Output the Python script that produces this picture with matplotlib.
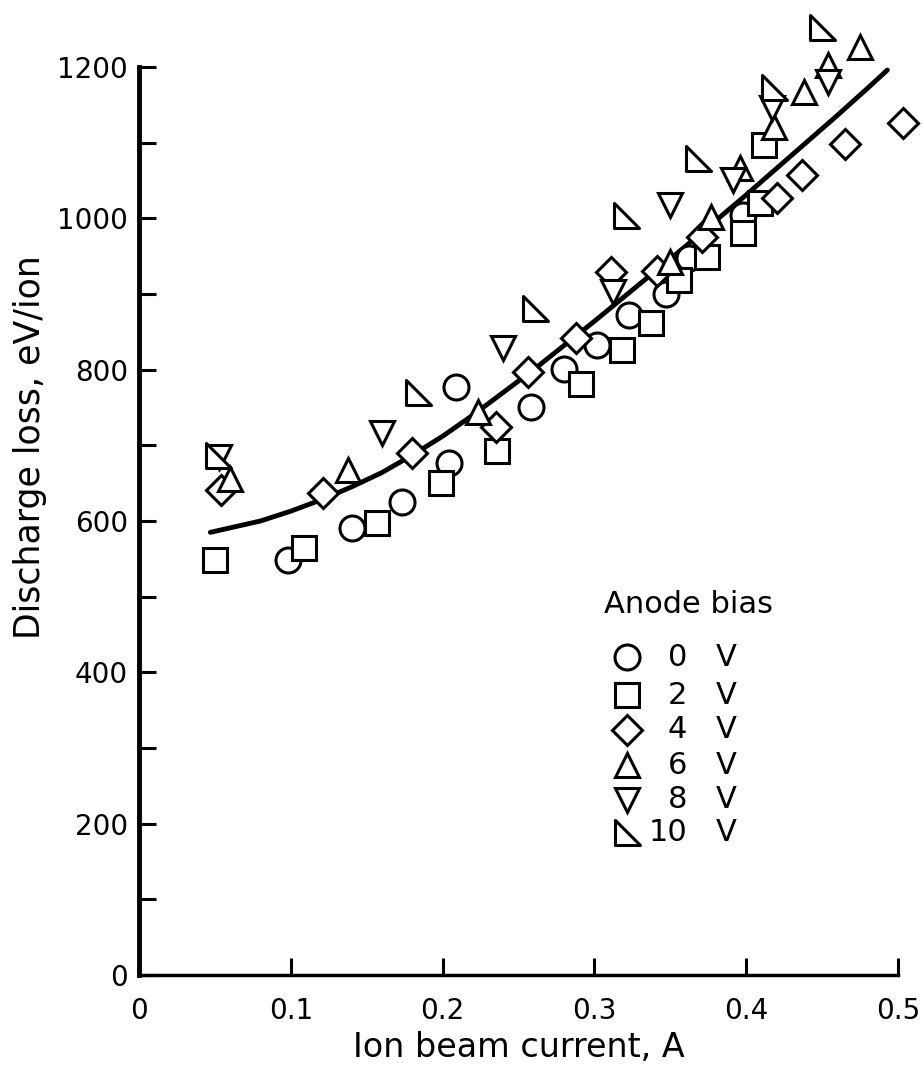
import numpy as np
import matplotlib
matplotlib.use("Agg")
import matplotlib.pyplot as plt
from matplotlib.path import Path

# anode bias series (x in A, y in eV/ion)
x_0v = [0.098, 0.140, 0.173, 0.204, 0.209, 0.258, 0.280, 0.302, 0.323, 0.347, 0.362, 0.398]
y_0v = [549, 591, 625, 677, 777, 751, 801, 833, 872, 900, 948, 1004]

x_2v = [0.050, 0.109, 0.157, 0.199, 0.236, 0.291, 0.318, 0.337, 0.356, 0.374, 0.398, 0.409, 0.412]
y_2v = [548, 564, 597, 650, 692, 781, 826, 862, 918, 949, 981, 1020, 1097]

x_4v = [0.054, 0.121, 0.180, 0.235, 0.256, 0.288, 0.311, 0.341, 0.371, 0.420, 0.437, 0.465, 0.503]
y_4v = [641, 637, 690, 724, 797, 842, 929, 931, 975, 1027, 1057, 1098, 1126]

x_6v = [0.060, 0.138, 0.223, 0.350, 0.377, 0.396, 0.418, 0.438, 0.454, 0.475]
y_6v = [656, 667, 744, 942, 1002, 1066, 1121, 1167, 1203, 1226]

x_8v = [0.053, 0.160, 0.240, 0.312, 0.350, 0.391, 0.417, 0.454]
y_8v = [685, 716, 829, 903, 1018, 1051, 1146, 1180]

x_10v = [0.052, 0.184, 0.261, 0.321, 0.368, 0.418, 0.450]
y_10v = [687, 770, 881, 1004, 1080, 1174, 1253]

# fitted curve, points
curve_x = [0.047, 0.08, 0.10, 0.12, 0.14, 0.16, 0.18, 0.20, 0.22, 0.24, 0.26,
           0.28, 0.30, 0.32, 0.34, 0.36, 0.38, 0.40, 0.42, 0.44, 0.46, 0.48, 0.493]
curve_y = [585, 600, 613, 628, 645, 664, 687, 712, 740, 770, 800,
           832, 864, 897, 930, 963, 997, 1031, 1066, 1101, 1136, 1172, 1196]

bias_labels = ["0", "2", "4", "6", "8", "10"]

# right-angle triangle marker for the 10 V series
rtri = Path([(-1, 1), (-1, -1), (1, -1), (-1, 1)],
            [Path.MOVETO, Path.LINETO, Path.LINETO, Path.CLOSEPOLY])

series = [
    (x_0v, y_0v, "o", 18),
    (x_2v, y_2v, "s", 17),
    (x_4v, y_4v, "D", 15),
    (x_6v, y_6v, "^", 17.5),
    (x_8v, y_8v, "v", 17.5),
    (x_10v, y_10v, rtri, 18),
]

fig = plt.figure(figsize=(9.23, 10.65), dpi=100)
ax = fig.add_axes([139 / 923, 90 / 1065, 759 / 923, 908 / 1065])

ax.plot(curve_x, curve_y, color="black", lw=3.5, solid_capstyle="round", zorder=2)

for xs, ys, m, ms in series:
    ax.plot(xs, ys, linestyle="none", marker=m, ms=ms, mfc="white",
            mec="black", mew=2.2, clip_on=False, zorder=3)

ax.set_xlim(0, 0.5)
ax.set_ylim(0, 1200)
ax.set_xticks(np.arange(0, 0.51, 0.1))
ax.set_xticklabels(["0", "0.1", "0.2", "0.3", "0.4", "0.5"])
ax.set_yticks(np.arange(0, 1201, 200))
ax.set_yticks(np.arange(100, 1200, 200), minor=True)

for s in ["top", "right"]:
    ax.spines[s].set_visible(False)
ax.spines["left"].set_linewidth(3.5)
ax.spines["bottom"].set_linewidth(2.5)

ax.tick_params(axis="both", which="both", direction="in", length=12, width=2.2,
               labelsize=20)
ax.tick_params(axis="x", pad=16)
ax.tick_params(axis="y", pad=8)

ax.set_xlabel("Ion beam current, A", labelpad=4, fontsize=24)
fig.text(30 / 923, 1 - 447 / 1065, "Discharge loss, eV/ion", rotation=90,
         ha="center", va="center", fontsize=25)

# legend block drawn by hand in axes fractions
ax.text(0.724, 0.408, "Anode bias", transform=ax.transAxes, ha="center",
        va="center", fontsize=22)
row_y = [0.350, 0.308, 0.270, 0.231, 0.193, 0.157]
for (xs, ys, m, ms), lab, ry in zip(series, bias_labels, row_y):
    ax.plot([0.643], [ry], transform=ax.transAxes, linestyle="none", marker=m,
            ms=ms, mfc="white", mec="black", mew=2.2, clip_on=False)
    ax.text(0.722, ry, lab, transform=ax.transAxes, ha="right", va="center",
            fontsize=22)
    ax.text(0.774, ry, "V", transform=ax.transAxes, ha="center", va="center",
            fontsize=22)

fig.savefig("out.png", dpi=100)
